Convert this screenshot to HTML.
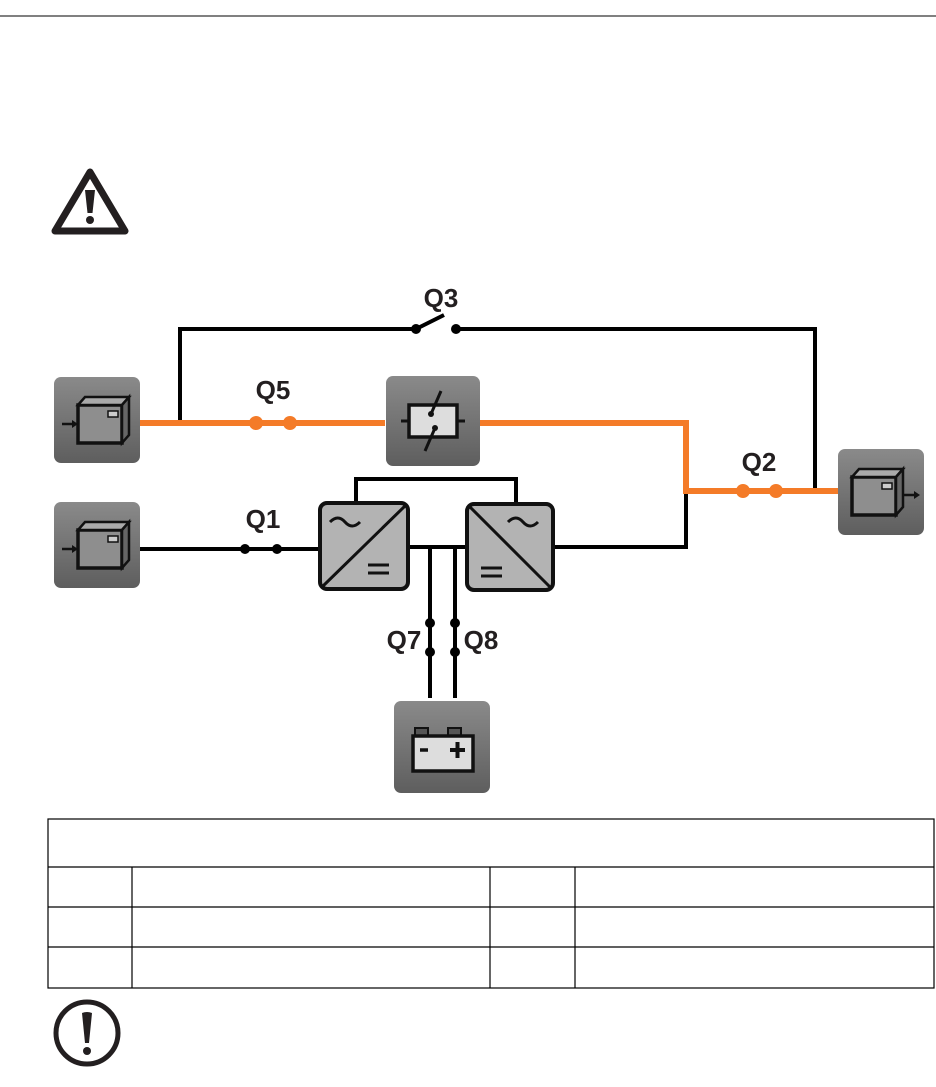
<!DOCTYPE html>
<html><head><meta charset="utf-8"><style>
html,body{margin:0;padding:0;background:#fff}
svg{display:block}
text{font-family:"Liberation Sans",sans-serif;font-weight:bold;fill:#231f20}
</style></head><body>
<svg width="936" height="1087" viewBox="0 0 936 1087" xmlns="http://www.w3.org/2000/svg">
<defs>
<linearGradient id="g" x1="0" y1="0" x2="0" y2="1">
<stop offset="0" stop-color="#8a8a8a"/><stop offset="1" stop-color="#5e5e5e"/></linearGradient>
<g id="box">
<rect x="0" y="0" width="86" height="86" rx="7" fill="url(#g)"/>
</g>
<g id="ups">
<rect x="24" y="28" width="44" height="38" fill="#8e8e8e" stroke="#111" stroke-width="3.5"/>
<path d="M24 28 L31 20 L75 20 L68 28 Z" fill="#aaa" stroke="#111" stroke-width="2.5"/>
<path d="M68 28 L75 20 L75 58 L68 66 Z" fill="#666" stroke="#111" stroke-width="2.5"/>
<rect x="54" y="34" width="10" height="6" fill="#ccc" stroke="#111" stroke-width="1.5"/>
</g>
</defs>
<line x1="0" y1="16" x2="936" y2="16" stroke="#000" stroke-width="1"/>
<!-- warning -->
<path d="M90 172 L125 231 L55 231 Z" fill="none" stroke="#231f20" stroke-width="7" stroke-linejoin="round"/>
<path d="M85 190 L95 190 L92.5 213 L87.5 213 Z" fill="#231f20"/>
<circle cx="90" cy="220" r="4" fill="#231f20"/>

<!-- black wiring -->
<g stroke="#000" stroke-width="4" fill="none">
<path d="M180 422 L180 329 L416 329"/>
<path d="M456 329 L815 329 L815 491"/>
<line x1="416" y1="329" x2="444" y2="315"/>
<path d="M140 549 L320 549"/>
<path d="M356 503 L356 479 L516 479 L516 503"/>
<path d="M408 547 L467 547"/>
<path d="M430 547 L430 698 M455 547 L455 698"/>
<path d="M553 547 L686 547 L686 491"/>
</g>
<g fill="#000">
<circle cx="416" cy="329" r="5"/><circle cx="456" cy="329" r="5"/>
<circle cx="245" cy="549" r="5"/><circle cx="277" cy="549" r="5"/>
<circle cx="430" cy="623" r="5"/><circle cx="430" cy="652" r="5"/>
<circle cx="455" cy="623" r="5"/><circle cx="455" cy="652" r="5"/>
</g>
<!-- orange -->
<g stroke="#f47b28" stroke-width="6" fill="none">
<path d="M140 423 L385 423"/>
<path d="M480 423 L686 423 L686 491 L838 491"/>
</g>
<g fill="#f47b28">
<circle cx="256" cy="423" r="7"/><circle cx="290" cy="423" r="7"/>
<circle cx="743" cy="491" r="7"/><circle cx="776" cy="491" r="7"/>
</g>
<!-- labels -->
<text x="441" y="307" font-size="26" text-anchor="middle">Q3</text>
<text x="273" y="399" font-size="26" text-anchor="middle">Q5</text>
<text x="263" y="528" font-size="26" text-anchor="middle">Q1</text>
<text x="759" y="471" font-size="26" text-anchor="middle">Q2</text>
<text x="404" y="649" font-size="26" text-anchor="middle">Q7</text>
<text x="481" y="649" font-size="26" text-anchor="middle">Q8</text>

<!-- source boxes -->
<g transform="translate(54,377)"><use href="#box"/><use href="#ups"/><path d="M8 47 L22 47" stroke="#111" stroke-width="2.5"/><path d="M18 43 L24 47 L18 51 Z" fill="#111"/></g>
<g transform="translate(54,502)"><use href="#box"/><use href="#ups"/><path d="M8 47 L22 47" stroke="#111" stroke-width="2.5"/><path d="M18 43 L24 47 L18 51 Z" fill="#111"/></g>
<g transform="translate(838,449)"><use href="#box"/><use href="#ups" transform="translate(-10,0)"/><path d="M66 46 L78 46" stroke="#111" stroke-width="2.5"/><path d="M76 42 L82 46 L76 50 Z" fill="#111"/></g>
<!-- static switch -->
<g transform="translate(386,376)">
<rect x="0" y="0" width="94" height="90" rx="7" fill="url(#g)"/>
<rect x="23" y="29" width="48" height="32" fill="#ddd" stroke="#111" stroke-width="3.5"/>
<path d="M15 45 L23 45 M71 45 L79 45" stroke="#111" stroke-width="3"/>
<path d="M55 15 L45 38 M39 75 L49 52" stroke="#111" stroke-width="3"/>
<circle cx="45" cy="38" r="3" fill="#111"/><circle cx="49" cy="52" r="3" fill="#111"/>
</g>
<!-- converters -->
<g stroke="#111" stroke-width="4" fill="#b3b3b3">
<rect x="320" y="503" width="88" height="86" rx="7"/>
<rect x="467" y="504" width="86" height="86" rx="7"/>
</g>
<g stroke="#111" stroke-width="3" fill="none">
<line x1="322" y1="587" x2="406" y2="505"/>
<line x1="469" y1="506" x2="551" y2="588"/>
<path d="M330 522 q8 -8 15 0 t15 0"/>
<path d="M508 522 q8 -8 15 0 t15 0"/>
<path d="M368 565 h21 M368 573 h21"/>
<path d="M481 568 h21 M481 576 h21"/>
</g>
<!-- battery -->
<g transform="translate(394,701)">
<rect x="0" y="0" width="96" height="92" rx="7" fill="url(#g)"/>
<rect x="21" y="27" width="13" height="9" fill="#555" stroke="#111" stroke-width="2"/>
<rect x="54" y="27" width="13" height="9" fill="#555" stroke="#111" stroke-width="2"/>
<rect x="19" y="35" width="60" height="35" fill="#ddd" stroke="#111" stroke-width="3.5"/>
<path d="M26 49 h8" stroke="#111" stroke-width="3.5"/>
<path d="M56 49 h15 M63.5 41 v16" stroke="#111" stroke-width="4"/>
</g>
<!-- table -->
<g stroke="#000" stroke-width="1.2" fill="none">
<rect x="48" y="819" width="886" height="169"/>
<line x1="48" y1="867" x2="934" y2="867"/>
<line x1="48" y1="907" x2="934" y2="907"/>
<line x1="48" y1="947" x2="934" y2="947"/>
<line x1="132" y1="867" x2="132" y2="988"/>
<line x1="490" y1="867" x2="490" y2="988"/>
<line x1="575" y1="867" x2="575" y2="988"/>
</g>
<!-- note -->
<circle cx="87" cy="1033" r="31" fill="none" stroke="#231f20" stroke-width="5"/>
<path d="M82 1013 Q87 1011 92 1013 L89 1043 L85 1043 Z" fill="#231f20"/>
<circle cx="87" cy="1051" r="4" fill="#231f20"/>
</svg>
</body></html>
